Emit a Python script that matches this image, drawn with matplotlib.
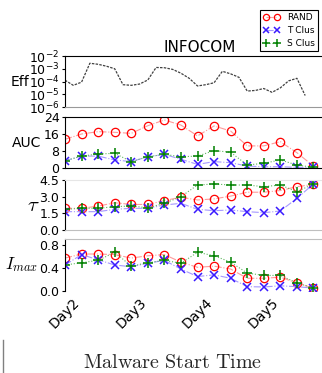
import numpy as np
import matplotlib.pyplot as plt
from matplotlib.lines import Line2D

# x axis: 4 samples per day, starting at Day2
x = np.arange(16)
x_eff = np.arange(30) * 0.5
day_ticks = [0, 4, 8, 12]
day_labels = ['Day2', 'Day3', 'Day4', 'Day5']

# Eff (log10 of value)
eff_exp = [-3.9, -4.3, -4.05, -2.57, -2.65, -2.8, -3.0, -4.25, -4.3, -4.2,
           -3.88, -2.9, -2.92, -3.05, -3.35, -3.75, -4.35, -4.25, -4.1, -3.2,
           -3.4, -3.67, -4.75, -4.7, -4.55, -4.85, -4.5, -3.95, -3.75, -5.1]

auc_rand = [13.5, 16.0, 17.1, 16.8, 16.3, 19.9, 22.6, 20.2, 15.1, 19.8,
            17.4, 10.4, 10.4, 12.4, 7.2, 0.9]
auc_tclus = [3.4, 5.6, 5.6, 3.8, 3.0, 5.3, 6.4, 4.1, 1.7, 3.0,
             2.5, 0.9, 0.6, 0.6, 0.3, 0.3]
auc_sclus = [3.4, 5.6, 6.6, 6.9, 3.0, 5.3, 6.4, 5.3, 5.6, 8.2,
             7.4, 1.4, 2.2, 3.8, 1.4, 0.3]

tau_rand = [1.95, 1.95, 2.15, 2.45, 2.3, 2.3, 2.65, 2.95, 2.7, 2.8,
            3.05, 3.4, 3.4, 3.55, 3.9, 4.1]
tau_tclus = [1.65, 1.65, 1.65, 1.86, 1.95, 1.95, 2.25, 2.4, 1.86, 1.74,
             1.8, 1.65, 1.56, 1.71, 2.85, 4.14]
tau_sclus = [1.86, 1.95, 1.95, 2.1, 2.16, 2.0, 2.4, 3.0, 4.05, 4.14,
             4.05, 4.05, 3.9, 4.05, 3.45, 4.14]

imax_rand = [0.57, 0.64, 0.64, 0.63, 0.57, 0.61, 0.63, 0.50, 0.41, 0.43,
             0.38, 0.22, 0.22, 0.24, 0.14, 0.05]
imax_tclus = [0.45, 0.63, 0.54, 0.45, 0.42, 0.48, 0.53, 0.38, 0.25, 0.28,
              0.22, 0.075, 0.07, 0.09, 0.075, 0.05]
imax_sclus = [0.45, 0.49, 0.53, 0.67, 0.43, 0.49, 0.53, 0.48, 0.67, 0.61,
              0.50, 0.31, 0.27, 0.27, 0.14, 0.05]

W, H = 322, 373
fig = plt.figure(figsize=(W / 100, H / 100), dpi=100)


def add_ax(top, bottom):
    return fig.add_axes([65 / W, 1 - bottom / H, 270 / W, (bottom - top) / H])


def style(ax, top_c, bot_c):
    ax.spines['right'].set_visible(False)
    if top_c is None:
        ax.spines['top'].set_visible(False)
    else:
        ax.spines['top'].set_color(top_c)
    if bot_c is None:
        ax.spines['bottom'].set_visible(False)
    else:
        ax.spines['bottom'].set_color(bot_c)
    ax.set_xlim(0, 16.3)
    ax.set_xticks(day_ticks)
    ax.tick_params(axis='x', length=0, labelbottom=False)
    ax.tick_params(axis='y', length=2, labelsize=9, pad=2)
    ax.set_facecolor('none')


def series(ax, yr, yt, ys):
    ax.plot(x, yr, linestyle='-.', color='#ff9a9a', lw=0.8, marker='o',
            mec='red', mfc='none', ms=6, mew=0.9, label='RAND')
    ax.plot(x, yt, linestyle='-.', color='#a698ff', lw=0.8, marker='x',
            mec='#3a1aff', ms=6, mew=1.1, label='T Clus')
    ax.plot(x, ys, linestyle=':', color='#60b860', lw=0.8, marker='+',
            mec='green', ms=7, mew=1.1, label='S Clus')


ax_eff = add_ax(56, 107)
ax_auc = add_ax(117, 168)
ax_tau = add_ax(180, 230)
ax_imax = add_ax(239, 291)

# Eff panel
ax_eff.semilogy(x_eff, 10 ** np.array(eff_exp), linestyle=(0, (2, 1)),
                color='0.25', lw=0.9)
style(ax_eff, 'black', '0.6')
ax_eff.set_ylim(1e-6, 1e-2)
ax_eff.set_yticks([1e-6, 1e-5, 1e-4, 1e-3, 1e-2])
ax_eff.minorticks_off()
ax_eff.set_title('INFOCOM', fontsize=11, pad=3)
ax_eff.set_ylabel('Eff', rotation=0, ha='right', va='center', fontsize=10, labelpad=0)

# AUC panel
series(ax_auc, auc_rand, auc_tclus, auc_sclus)
style(ax_auc, 'black', 'black')
ax_auc.set_ylim(0, 24)
ax_auc.set_yticks([0, 8, 16, 24])
ax_auc.set_ylabel('AUC', rotation=0, ha='right', va='center', fontsize=10, labelpad=2)

# tau panel
series(ax_tau, tau_rand, tau_tclus, tau_sclus)
style(ax_tau, '0.9', '0.75')
ax_tau.set_ylim(0, 4.5)
ax_tau.set_yticks([0, 1.5, 3.0, 4.5])
ax_tau.set_yticklabels(['0.0', '1.5', '3.0', '4.5'])
ax_tau.set_ylabel(r'$\tau$', rotation=0, ha='right', va='center', fontsize=15,
                  labelpad=0, math_fontfamily='cm')

# I_max panel
series(ax_imax, imax_rand, imax_tclus, imax_sclus)
style(ax_imax, '0.75', None)
ax_imax.set_ylim(0, 0.9)
ax_imax.set_yticks([0, 0.4, 0.8])
ax_imax.set_yticklabels(['0.0', '0.4', '0.8'])
ax_imax.set_ylabel(r'$I_{max}$', rotation=0, ha='right', va='center', fontsize=12.5,
                   labelpad=1, math_fontfamily='cm')
ax_imax.tick_params(axis='x', labelbottom=True, labelsize=10, pad=3)
ax_imax.set_xticklabels(day_labels, rotation=45)

fig.text(173 / W, 1 - 363 / H, r'$\mathrm{Malware\ Start\ Time}$', fontsize=14.5,
         ha='center', va='center', math_fontfamily='cm', color='0.15')

handles, labels = ax_imax.get_legend_handles_labels()
leg = fig.legend(handles, labels, loc='upper right', bbox_to_anchor=(318 / W, 1 - 10 / H),
                 fontsize=6.5, numpoints=2, markerscale=0.75, handlelength=1.9,
                 handletextpad=0.8, borderpad=0.3, labelspacing=0.45, fancybox=False,
                 framealpha=1, edgecolor='black', borderaxespad=0)
leg.get_frame().set_linewidth(0.8)

# stray mark at the left margin
fig.add_artist(Line2D([3 / W, 3 / W], [0, 1 - 340 / H], color='0.5', lw=1))

fig.savefig('out.png', dpi=100)
